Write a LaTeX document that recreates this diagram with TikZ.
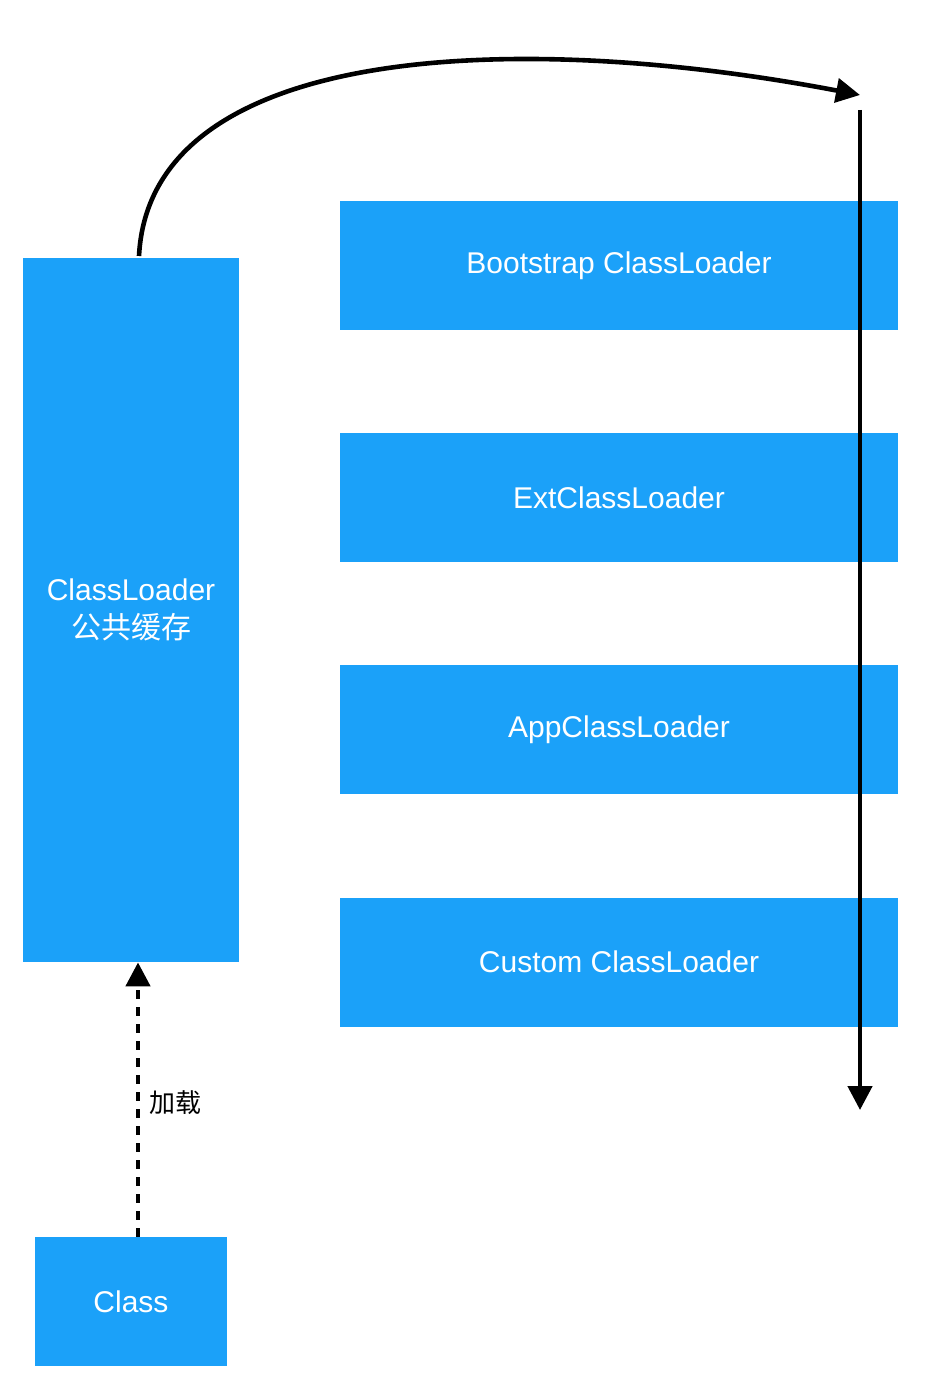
\documentclass[tikz,border=0pt]{standalone}
\usepackage{fontspec}
\setmainfont{Liberation Sans}
\newfontfamily\cjk{Noto Sans CJK SC}
\usetikzlibrary{arrows.meta}
\definecolor{boxblue}{HTML}{1BA1F9}
\tikzset{
  box/.style={fill=boxblue, draw=none, text=white, align=center, inner sep=0pt, font=\fontsize{15}{19}\selectfont},
  conn/.style={line width=2.3pt, -{Triangle[length=12pt,width=12pt]}},
}
\begin{document}
\begin{tikzpicture}[x=0.5pt,y=-0.5pt]
\useasboundingbox (0,0) rectangle (936,1400);
\node[box, minimum width=108pt, minimum height=352pt] (cache) at (131,610) {ClassLoader\\{\cjk 公共缓存}};
\node[box, minimum width=279pt, minimum height=64.5pt] (boot) at (619,265.5) {Bootstrap ClassLoader};
\node[box, minimum width=279pt, minimum height=64.5pt] (ext) at (619,497.5) {ExtClassLoader};
\node[box, minimum width=279pt, minimum height=64.5pt] (app) at (619,729.5) {AppClassLoader};
\node[box, minimum width=279pt, minimum height=64.5pt] (custom) at (619,962) {Custom ClassLoader};
\node[box, minimum width=96pt, minimum height=64.5pt] (cls) at (131,1301.5) {Class};
\coordinate (curveend) at (860,95);
\coordinate (vtop) at (860,110);
\coordinate (vbot) at (860,1110);
\coordinate (cstart) at (139,256);
\draw[conn] (cstart) .. controls (150,42) and (520,30) .. (curveend);
\draw[conn] (vtop) -- (vbot);
\draw[conn, dashed, dash pattern=on 4.5pt off 4pt] (cls.north -| 138,0) -- (cache.south -| 138,0);
\node[anchor=west, font=\cjk\fontsize{13}{15}\selectfont] (load) at (142,1103) {加载};
\end{tikzpicture}
\end{document}
